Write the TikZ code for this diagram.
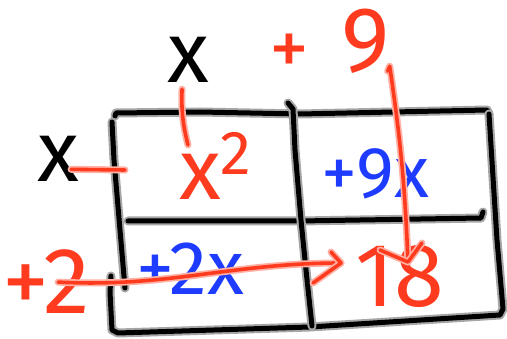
\documentclass[tikz,border=0pt]{standalone}
\usepackage{fontspec}
\setmainfont{Fira Sans}
\usetikzlibrary{arrows.meta}
\definecolor{penred}{HTML}{FF3B1F}
\definecolor{penblue}{HTML}{1E3CFF}
\tikzset{
  gridline/.style={draw=black, line width=5pt, line cap=round, line join=round,
    preaction={draw=black!35, line width=9pt, line cap=round, line join=round}},
  redline/.style={draw=penred, line width=3.6pt, line cap=round, line join=round,
    preaction={draw=penred!40, line width=7pt, line cap=round, line join=round}},
  lbl/.style={inner sep=0pt, anchor=base west},
  ink/.style={text=black},
  rink/.style={text=penred},
  bink/.style={text=penblue},
  fs/.style={font=\fontsize{#1}{#1}\selectfont},
}
\begin{document}
\begin{tikzpicture}[x=1pt, y=-1pt]
\useasboundingbox (0,0) rectangle (507,339);
% grid
\draw[gridline] (115,116) -- (116,113) -- (200,112) -- (300,114) -- (487,110) -- (489,114);
\draw[gridline] (112,122) -- (114,160) -- (120,230) -- (125,288);
\draw[gridline] (111,276) -- (110,292) -- (112,330) -- (118,333) -- (310,327) -- (500,315) -- (503,309) -- (497,240) -- (489,114);
\draw[gridline] (128,221) -- (300,221) -- (481,218) -- (483,212);
\draw[gridline] (288,103) -- (293,109) -- (295,150) -- (301,220) -- (306,270) -- (312,326);
% labels
\node[lbl, ink, fs=86] (topx) at (167,83) {x};
\node[lbl, ink, fs=86] (leftx) at (37,182) {x};
\node[inner sep=0pt, rink, fs=80] (plus) at (289,55) {+};
\node[lbl, rink, fs=92] (nine) at (341,72) {9};
\node[lbl, rink, fs=86] (xsq) at (179,200) {x\raisebox{0.3em}{\fontsize{62}{62}\selectfont 2}};
\node[lbl, bink, fs=72] (ninex) at (321,198) {+9x};
\node[lbl, bink, fs=76] (twox) at (136,295) {+2x};
\node[lbl, rink, fs=90] (eighteen) at (355,307) {18};
\node[lbl, rink, fs=94] (plustwo) at (2,314) {+2};
% connectors
\coordinate (lxend) at (125,170);
\coordinate (txend) at (188,145);
\coordinate (htip) at ([xshift=-14pt,yshift=44pt]eighteen.base west);
\coordinate (vtip) at ([xshift=53pt,yshift=45pt]eighteen.base west);
\draw[redline] ([xshift=-6pt,yshift=-6pt]topx.south) to[bend right=8] (txend);
\draw[redline] ([xshift=-8pt,yshift=-10pt]leftx.east) -- (lxend);
\draw[redline] ([xshift=-2pt,yshift=3pt]nine.south east) -- ([xshift=0pt,yshift=8pt]nine.south east) to[bend left=3] (vtip);
\draw[redline] ([shift={(-28pt,12pt)}]vtip) -- (vtip) -- ([shift={(14pt,19pt)}]vtip);
\draw[redline] ([xshift=-32pt]plustwo.east) to[out=-3,in=180] (htip);
\draw[redline] ([shift={(-10pt,11pt)}]htip) -- (htip) -- ([shift={(-28pt,-20pt)}]htip);
\end{tikzpicture}
\end{document}
